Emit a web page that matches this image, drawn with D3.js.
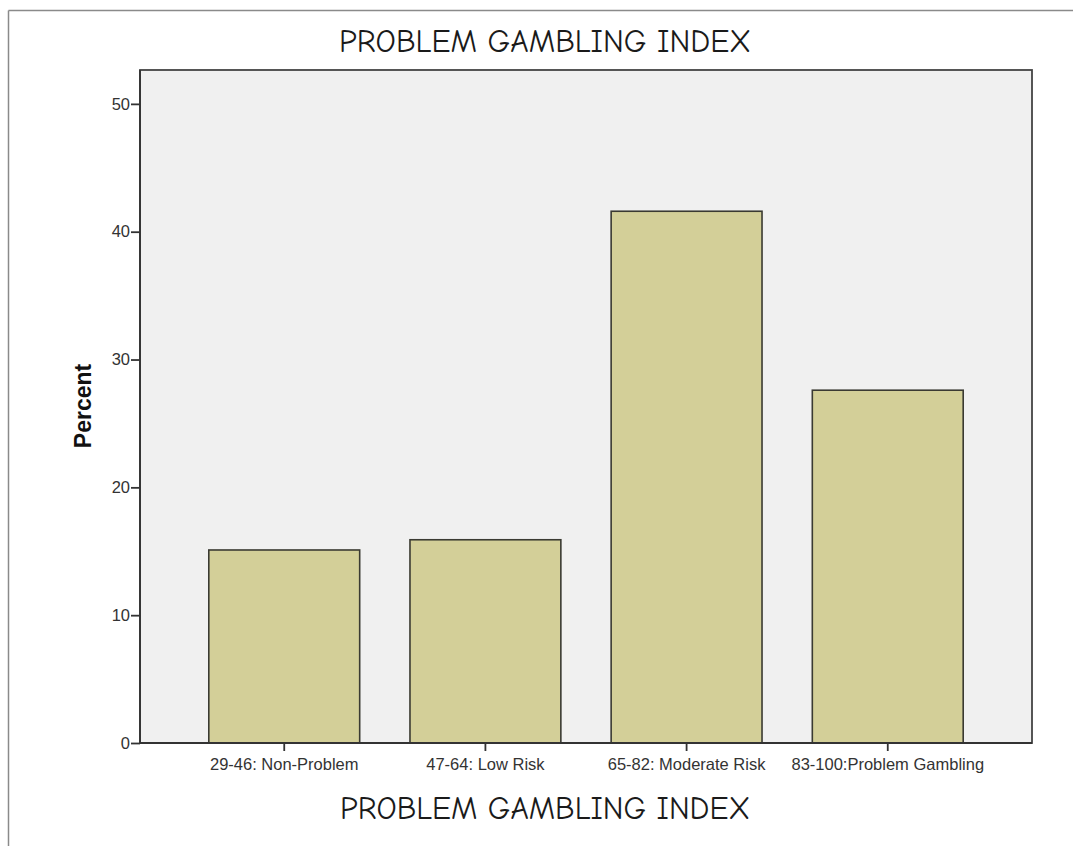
<!DOCTYPE html>
<html>
<head>
<meta charset="utf-8">
<script src="https://cdn.jsdelivr.net/npm/d3@7"></script>
<style>
  html, body { margin: 0; padding: 0; background: #fff; }
  svg { display: block; }
</style>
</head>
<body>
<svg id="chart" width="1073" height="846"></svg>
<script>
const categories = ["29-46: Non-Problem", "47-64: Low Risk", "65-82: Moderate Risk", "83-100:Problem Gambling"];
const percents = [15.1, 15.9, 41.6, 27.6];
const yTicks = [0, 10, 20, 30, 40, 50];
const titleText = "PROBLEM GAMBLING INDEX";
const axisTitleX = "PROBLEM GAMBLING INDEX";
const axisTitleY = "Percent";

const svg = d3.select("#chart");
const W = 1073, H = 846;

// outer screenshot frame
svg.append("line").attr("x1", 8.5).attr("x2", W).attr("y1", 10.5).attr("y2", 10.5)
  .attr("stroke", "#8a8a8a").attr("stroke-width", 1.5);
svg.append("line").attr("x1", 8.5).attr("x2", 8.5).attr("y1", 10.5).attr("y2", H)
  .attr("stroke", "#8a8a8a").attr("stroke-width", 1.5);

const plot = { left: 140, top: 70, right: 1032, bottom: 743 };

const x = d3.scaleBand().domain(categories)
  .range([plot.left, plot.right]).paddingInner(0.25).paddingOuter(0.342);
const y = d3.scaleLinear().domain([0, 52.65]).range([plot.bottom, plot.top]);

// plot background
svg.append("rect").attr("x", plot.left).attr("y", plot.top)
  .attr("width", plot.right - plot.left).attr("height", plot.bottom - plot.top)
  .attr("fill", "#f0f0f0").attr("stroke", "#444").attr("stroke-width", 1.8);

// bars
svg.append("g").selectAll("rect").data(categories).join("rect")
  .attr("x", d => x(d))
  .attr("y", (d, i) => y(percents[i]))
  .attr("width", x.bandwidth())
  .attr("height", (d, i) => y(0) - y(percents[i]))
  .attr("fill", "#d3cf98")
  .attr("stroke", "#3a3a32").attr("stroke-width", 1.6);

const tickFont = "Liberation Sans, Arial, sans-serif";

// y axis
const yAxis = d3.axisLeft(y).tickValues(yTicks).tickSize(9).tickPadding(1).tickFormat(d3.format("d"));
const gy = svg.append("g").attr("transform", `translate(${plot.left},0)`).call(yAxis);
gy.select(".domain").remove();
gy.selectAll(".tick line").attr("stroke", "#333").attr("stroke-width", 1.8);
gy.selectAll(".tick text").attr("font-family", tickFont)
  .attr("font-size", 16.5).attr("fill", "#333");

// x axis
const xAxis = d3.axisBottom(x).tickSize(8).tickPadding(7);
const gx = svg.append("g").attr("transform", `translate(0,${plot.bottom})`).call(xAxis);
gx.select(".domain").remove();
gx.selectAll(".tick line").attr("stroke", "#333").attr("stroke-width", 1.8);
gx.selectAll(".tick text").attr("font-family", tickFont)
  .attr("font-size", 16.5).attr("fill", "#333");

// axis lines over bars
svg.append("line").attr("x1", plot.left).attr("x2", plot.right)
  .attr("y1", plot.bottom).attr("y2", plot.bottom).attr("stroke", "#333").attr("stroke-width", 1.8);
svg.append("line").attr("x1", plot.left).attr("x2", plot.left)
  .attr("y1", plot.top).attr("y2", plot.bottom).attr("stroke", "#333").attr("stroke-width", 1.8);

// titles
const comic = "'Comic Sans MS', 'Comic Neue', 'DejaVu Sans', sans-serif";
svg.append("text").attr("x", 545).attr("y", 52).attr("text-anchor", "middle")
  .attr("font-family", comic).attr("font-size", 32).attr("fill", "#1a1a1a")
  .attr("textLength", 412).attr("lengthAdjust", "spacingAndGlyphs")
  .text(titleText);
svg.append("text").attr("x", 545).attr("y", 819).attr("text-anchor", "middle")
  .attr("font-family", comic).attr("font-size", 32).attr("fill", "#1a1a1a")
  .attr("textLength", 410).attr("lengthAdjust", "spacingAndGlyphs")
  .text(axisTitleX);

svg.append("text").attr("transform", "translate(91,406) rotate(-90)")
  .attr("text-anchor", "middle")
  .attr("font-family", tickFont).attr("font-weight", "bold")
  .attr("font-size", 23).attr("fill", "#111")
  .text(axisTitleY);
</script>
</body>
</html>
